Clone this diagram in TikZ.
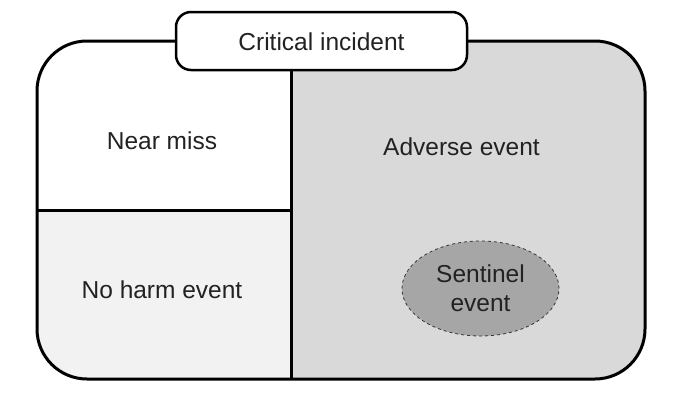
\documentclass[tikz,border=0pt]{standalone}
\usepackage{fontspec}
\setmainfont{Liberation Sans}
\usetikzlibrary{shapes.geometric}
\definecolor{lightfill}{HTML}{F2F2F2}
\definecolor{midfill}{HTML}{D9D9D9}
\definecolor{darkfill}{HTML}{A6A6A6}
\definecolor{txt}{HTML}{222222}
\tikzset{
  lbl/.style={text=txt, font=\fontsize{24.5}{29}\selectfont, inner sep=0pt, anchor=base},
  border/.style={line width=3pt, draw=black},
  titlebox/.style={draw=black, line width=2.5pt, fill=white, rounded corners=15pt,
    minimum width=291pt, minimum height=58pt, inner sep=0pt, text=txt,
    font=\fontsize{24.5}{29}\selectfont},
  sentinel/.style={ellipse, draw=black!80, dashed, line width=0.8pt, fill=darkfill,
    minimum width=157pt, minimum height=95pt, inner sep=0pt, align=center, text=txt,
    font=\fontsize{24.5}{29}\selectfont}
}
\begin{document}
\begin{tikzpicture}[x=1pt,y=-1pt]
\useasboundingbox (0,0) rectangle (673,405);
% regions
\begin{scope}
  \clip[rounded corners=50pt] (37,41) rectangle (645,379);
  \fill[white] (37,41) rectangle (291,210);
  \fill[lightfill] (37,210) rectangle (291,379);
  \fill[midfill] (291,41) rectangle (645,379);
\end{scope}
\draw[border, rounded corners=50pt] (37,41) rectangle (645,379);
% dividers
\coordinate (vtop) at (291,41);
\coordinate (vbot) at (291,379);
\coordinate (hl) at (37,210);
\coordinate (hr) at (291,210);
\draw[border] (vtop) -- (vbot);
\draw[border] (hl) -- (hr);
% title
\node[titlebox] (crit) at (321.5,41) {};
\node[lbl] (critt) at (321.5,50) {Critical incident};
% labels
\node[lbl] (near) at (162,149) {Near miss};
\node[lbl] (noharm) at (162,298) {No harm event};
\node[lbl] (adverse) at (461.5,155) {Adverse event};
\node[sentinel] (sent) at (480.5,288.5) {Sentinel\\event};
\end{tikzpicture}
\end{document}
